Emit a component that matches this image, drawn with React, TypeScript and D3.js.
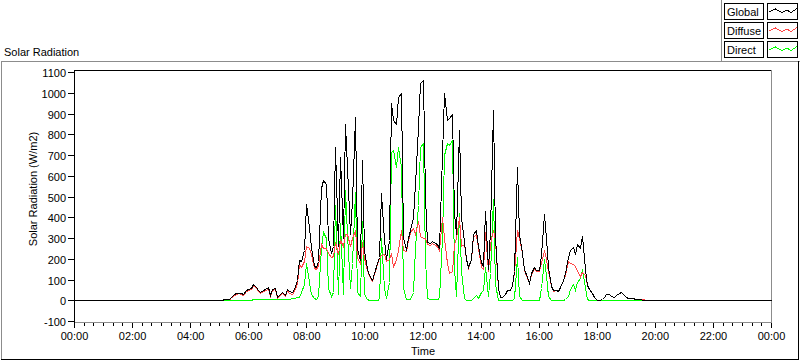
import React from "react";
import * as d3 from "d3";

// samples every 5 minutes from 05:00 to 20:00 (one row = one hour)
const START_MIN = 300;
const STEP_MIN = 5;

const globalRad = [
  0, 0, 5, 5, 6, 15, 28, 35, 37, 35, 30, 48,
  55, 60, 78, 65, 50, 42, 50, 55, 62, 25, 55, 60,
  15, 30, 40, 25, 55, 45, 40, 55, 100, 195, 190, 240,
  466, 354, 257, 165, 160, 190, 540, 580, 560, 300, 230, 260,
  740, 260, 690, 300, 850, 640, 320, 480, 884, 250, 195, 675,
  240, 150, 120, 96, 130, 180, 210, 515, 290, 200, 290, 949,
  870, 850, 981, 997, 305, 240, 300, 340, 400, 560, 836, 1045,
  1062, 500, 280, 275, 285, 275, 270, 250, 700, 997, 870, 880,
  900, 420, 320, 820, 400, 280, 200, 160, 200, 320, 340, 260,
  185, 165, 430, 150, 340, 917, 305, 60, 16, 18, 32, 50,
  50, 75, 140, 643, 320, 230, 150, 110, 85, 130, 160, 145,
  145, 220, 418, 300, 160, 70, 48, 50, 45, 64, 100, 130,
  209, 240, 257, 225, 270, 250, 310, 150, 75, 55, 35, 18,
  3, 0, 5, 16, 30, 32, 20, 16, 25, 35, 40, 30,
  15, 10, 12, 10, 8, 7, 4, 3, 2, 0, 0, 0,
  0,
];

const diffuseRad = [
  0, 0, 4, 4, 5, 13, 25, 32, 34, 32, 27, 44,
  51, 56, 73, 60, 43, 35, 43, 49, 56, 20, 50, 54,
  10, 24, 34, 19, 47, 37, 30, 43, 85, 177, 160, 190,
  260, 250, 225, 155, 152, 170, 270, 250, 250, 230, 210, 215,
  280, 225, 290, 260, 320, 320, 260, 300, 340, 210, 175, 280,
  205, 145, 118, 95, 127, 176, 205, 220, 225, 190, 200, 230,
  160, 200, 240, 340, 240, 235, 290, 330, 350, 320, 380, 310,
  300, 300, 270, 267, 277, 267, 262, 240, 400, 300, 180, 130,
  140, 270, 300, 400, 260, 270, 197, 157, 197, 310, 315, 250,
  160, 150, 330, 140, 270, 338, 290, 58, 16, 18, 31, 48,
  48, 72, 130, 338, 300, 226, 148, 108, 83, 127, 157, 142,
  142, 180, 241, 200, 140, 68, 46, 48, 44, 62, 97, 122,
  190, 180, 175, 165, 140, 115, 135, 120, 72, 53, 34, 17,
  2, 0, 5, 15, 29, 31, 19, 15, 24, 34, 39, 29,
  14, 10, 12, 10, 8, 7, 5, 4, 3, 3, 2, 2,
  0,
];

const directRad = [
  0, 0, 0, 0, 0, 0, 0, 2, 2, 3, 3, 3,
  3, 3, 5, 6, 8, 8, 8, 6, 6, 5, 6, 6,
  5, 6, 6, 6, 8, 8, 10, 12, 15, 18, 40, 80,
  180, 90, 30, 10, 8, 20, 250, 330, 300, 60, 20, 40,
  460, 30, 370, 30, 530, 320, 60, 180, 520, 40, 20, 380,
  30, 5, 2, 0, 2, 3, 5, 300, 60, 10, 90, 715,
  724, 640, 740, 640, 60, 5, 5, 8, 40, 250, 460, 740,
  756, 200, 10, 8, 8, 8, 8, 10, 300, 700, 760, 750,
  770, 150, 20, 420, 140, 10, 3, 3, 3, 10, 25, 10,
  40, 50, 160, 20, 130, 490, 80, 3, 0, 0, 0, 0,
  0, 0, 10, 209, 20, 0, 0, 0, 0, 0, 0, 0,
  0, 60, 200, 120, 20, 0, 0, 0, 0, 2, 3, 8,
  20, 56, 78, 50, 90, 105, 153, 60, 5, 2, 2, 2,
  2, 2, 2, 2, 2, 2, 2, 2, 2, 2, 2, 2,
  2, 1, 1, 1, 1, 1, 1, 0, 0, 0, 0, 0,
  0,
];

const yTicks = [-100, 0, 100, 200, 300, 400, 500, 600, 700, 800, 900, 1000, 1100];
const xTickMinutes = [0, 120, 240, 360, 480, 600, 720, 840, 960, 1080, 1200, 1320, 1440];
const legendNames = ["Global", "Diffuse", "Direct"];
const legendColors = ["#000000", "#ff4646", "#00ff00"];

const FONT = "'Liberation Sans', Arial, sans-serif";

const fmtTime = (m: number) => {
  const h = Math.floor(m / 60) % 24;
  const mm = m % 60;
  return `${String(h).padStart(2, "0")}:${String(mm).padStart(2, "0")}`;
};

export default function App() {
  const width = 800;
  const height = 361;

  const x = d3.scaleLinear().domain([0, 1440]).range([74.5, 771.5]);
  const y = d3.scaleLinear().domain([-100, 1100]).range([321.5, 72.5]);
  const px = (v: number) => Math.round(v - 0.5) + 0.5;

  const toPoints = (vals: number[]): [number, number][] => [
    [0, 0],
    ...vals.map((v, i) => [START_MIN + i * STEP_MIN, v] as [number, number]),
    [1440, 0],
  ];

  const line = d3
    .line<[number, number]>()
    .x((d) => px(x(d[0])))
    .y((d) => px(y(d[1])));

  const minorTicks = d3.range(0, 1441, 20).filter((m) => m % 120 !== 0);

  const series = [
    { vals: directRad, color: legendColors[2] },
    { vals: diffuseRad, color: legendColors[1] },
    { vals: globalRad, color: legendColors[0] },
  ];

  // little zigzag used in the legend swatches
  const swatch = [
    [1, 8.5],
    [7.5, 5.5],
    [14, 9],
    [19, 6.5],
    [23, 9],
    [29, 5],
  ];

  return (
    <svg
      width={width}
      height={height}
      style={{ position: "absolute", left: 0, top: 0, background: "#fff" }}
      fontFamily={FONT}
      fontSize={11}
    >
      {/* outer panel */}
      <line x1={1} x2={800} y1={61.5} y2={61.5} stroke="#8c8c8c" />
      <line x1={1.5} x2={1.5} y1={61} y2={360} stroke="#8c8c8c" />
      <line x1={1} x2={799} y1={359.5} y2={359.5} stroke="#000" />
      <line x1={798.5} x2={798.5} y1={61} y2={360} stroke="#000" />

      <text x={4} y={56} fill="#000">
        Solar Radiation
      </text>

      {/* legend */}
      <line x1={721.5} x2={721.5} y1={0} y2={61} stroke="#8c8c8c" />
      {legendNames.map((name, i) => {
        const top = 3.5 + i * 19;
        return (
          <g key={name}>
            <rect x={724.5} y={top} width={39} height={16} fill="#fff" stroke="#000" />
            <text x={727} y={top + 12.5} fill="#000">
              {name}
            </text>
            <rect x={767.5} y={top} width={30} height={16} fill="#fff" stroke="#000" />
            <polyline
              points={swatch.map(([dx, dy]) => `${768 + dx},${top + dy}`).join(" ")}
              fill="none"
              stroke={legendColors[i]}
              shapeRendering="crispEdges"
            />
          </g>
        );
      })}

      {/* plot frame */}
      <line x1={74} x2={772} y1={70.5} y2={70.5} stroke="#000" />
      <line x1={771.5} x2={771.5} y1={70} y2={323} stroke="#8c8c8c" />
      <line x1={74} x2={772} y1={322.5} y2={322.5} stroke="#8c8c8c" />

      {/* series */}
      {series.map((s) => (
        <path
          key={s.color}
          d={line(toPoints(s.vals)) || ""}
          fill="none"
          stroke={s.color}
          strokeWidth={1}
          shapeRendering="crispEdges"
        />
      ))}

      {/* y axis */}
      <line x1={74.5} x2={74.5} y1={70} y2={323} stroke="#000" />
      {yTicks.map((t) => (
        <g key={t}>
          <line x1={68} x2={74} y1={px(y(t))} y2={px(y(t))} stroke="#000" />
          <text x={66} y={px(y(t)) + 4} textAnchor="end" fill="#000">
            {t}
          </text>
        </g>
      ))}
      <text
        transform={`translate(37,${(y(1100) + y(-100)) / 2 - 8}) rotate(-90)`}
        textAnchor="middle"
        fill="#000"
      >
        Solar Radiation (W/m2)
      </text>

      {/* x axis */}
      {minorTicks.map((m) => (
        <line key={m} x1={px(x(m))} x2={px(x(m))} y1={323} y2={326} stroke="#000" />
      ))}
      {xTickMinutes.map((m) => (
        <g key={m}>
          <line x1={px(x(m))} x2={px(x(m))} y1={323} y2={328} stroke="#000" />
          <text x={x(m)} y={340} textAnchor="middle" fill="#000">
            {fmtTime(m)}
          </text>
        </g>
      ))}
      <text x={(x(0) + x(1440)) / 2} y={355} textAnchor="middle" fill="#000">
        Time
      </text>
    </svg>
  );
}
